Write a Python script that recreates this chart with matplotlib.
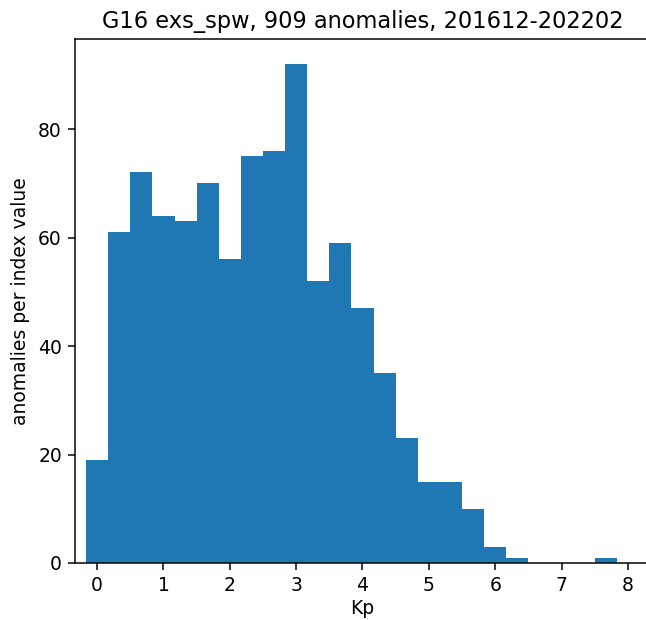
import numpy as np
import matplotlib.pyplot as plt

# Kp index values (thirds) and anomaly counts per value
kp_values = [0, 1/3, 2/3, 1, 4/3, 5/3, 2, 7/3, 8/3, 3, 10/3, 11/3, 4, 13/3, 14/3,
             5, 16/3, 17/3, 6, 19/3, 20/3, 7, 22/3, 23/3, 8]
counts = [19, 61, 72, 64, 63, 70, 56, 75, 76, 92, 52, 59, 47, 35, 23,
          15, 15, 10, 3, 1, 0, 0, 0, 1, 0]
x_ticks = [0, 1, 2, 3, 4, 5, 6, 7, 8]
y_ticks = [0, 20, 40, 60, 80]

fig = plt.figure(figsize=(646 / 135, 620 / 135), dpi=135)
ax = fig.add_axes([75 / 646, 57 / 620, 575 / 646, 524 / 620])

ax.hist(kp_values, bins=np.arange(-1 / 6, 8.2, 1 / 3), weights=counts, color='#1f77b4')

ax.set_xlim(-1 / 3, 8 + 1 / 3)
ax.set_ylim(0, max(counts) * 1.05)
ax.set_xticks(x_ticks)
ax.set_yticks(y_ticks)
ax.spines['right'].set_visible(False)

ax.set_xlabel('Kp', labelpad=2)
ax.set_ylabel('anomalies per index value')
ax.set_title('G16 exs_spw, 909 anomalies, 201612-202202')

fig.savefig('out.png', dpi=135)
